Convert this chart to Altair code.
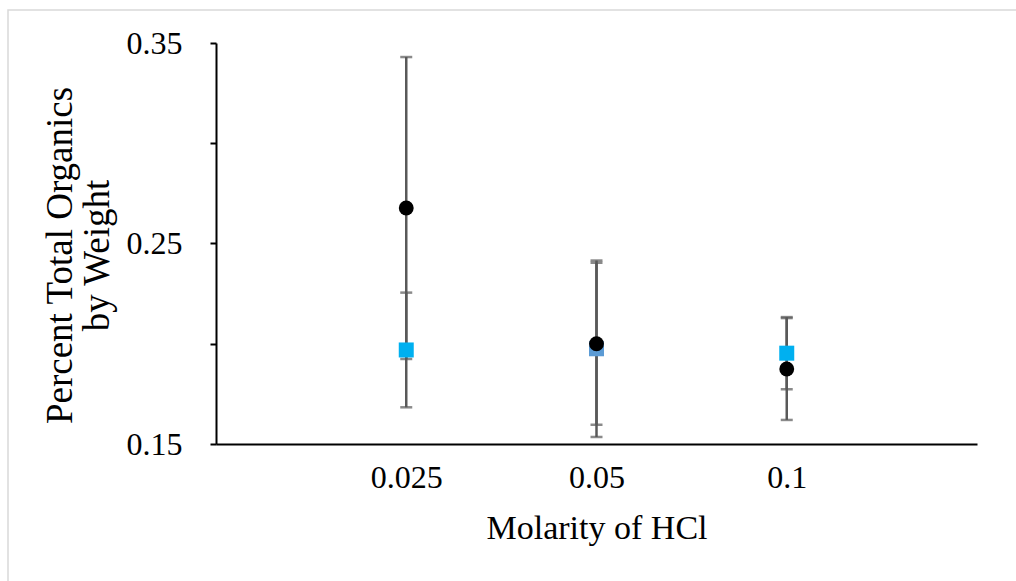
import altair as alt
import pandas as pd

molarity = ["0.025", "0.05", "0.1"]
circle_mean = [0.2677, 0.2000, 0.1874]
circle_err = [0.0753, 0.0404, 0.0254]
square_mean = [0.1969, 0.1975, 0.1953]
square_err = [0.0286, 0.0440, 0.0180]
square_colors = ["#00B0F0", "#5B9BD5", "#00B0F0"]

y_ticks = [0.15, 0.20, 0.25, 0.30, 0.35]

rows = []
for i, m in enumerate(molarity):
    rows.append({"molarity": m, "series": "circle", "mean": circle_mean[i],
                 "lo": circle_mean[i] - circle_err[i], "hi": circle_mean[i] + circle_err[i],
                 "color": "#000000"})
    rows.append({"molarity": m, "series": "square", "mean": square_mean[i],
                 "lo": square_mean[i] - square_err[i], "hi": square_mean[i] + square_err[i],
                 "color": square_colors[i]})
df = pd.DataFrame(rows)

FONT = "Liberation Serif"

x_enc = alt.X(
    "molarity:O",
    sort=molarity,
    scale=alt.Scale(type="point", padding=1),
    axis=alt.Axis(
        title="Molarity of HCl",
        labelAngle=0,
        ticks=False,
        tickSize=0,
        labelPadding=18,
        titlePadding=18,
        titleFontSize=34,
        domainColor="#000000",
        domainWidth=2,
    ),
)
y_scale = alt.Scale(domain=[0.15, 0.35], nice=False, zero=False)
y_axis = alt.Axis(
    title=["Percent Total Organics", "by Weight"],
    values=y_ticks,
    format=".2f",
    labelExpr="round(datum.value*100) % 10 == 5 ? datum.label : ''",
    tickSize=6,
    tickWidth=2,
    tickColor="#000000",
    labelPadding=28,
    titlePadding=10,
    titleFontSize=37,
    titleLineHeight=37,
    titleY=212,
    domainColor="#000000",
    domainWidth=2,
    grid=False,
)

base = alt.Chart(df)

frame = base.mark_rect(fill=None, stroke="#D9D9D9", strokeWidth=1.5).encode(
    x=alt.value(-208), x2=alt.value(900), y=alt.value(-33), y2=alt.value(600)
).transform_filter("datum.series == 'circle' && datum.molarity == '0.025'")

rules = base.mark_rule(color="#595959", strokeWidth=2.5).encode(
    x=x_enc,
    y=alt.Y("lo:Q", scale=y_scale, axis=y_axis),
    y2="hi:Q",
)
caps_lo = base.mark_tick(color="#595959", size=12, thickness=2.5).encode(
    x=alt.X("molarity:O", sort=molarity), y=alt.Y("lo:Q")
)
caps_hi = base.mark_tick(color="#595959", size=12, thickness=2.5).encode(
    x=alt.X("molarity:O", sort=molarity), y=alt.Y("hi:Q")
)
squares = base.mark_point(shape="square", filled=True, size=225, opacity=1).encode(
    x=alt.X("molarity:O", sort=molarity),
    y=alt.Y("mean:Q"),
    color=alt.Color("color:N", scale=None),
).transform_filter("datum.series == 'square'")
circles = base.mark_point(shape="circle", filled=True, size=220, opacity=1, color="#000000").encode(
    x=alt.X("molarity:O", sort=molarity),
    y=alt.Y("mean:Q"),
).transform_filter("datum.series == 'circle'")

chart = (
    alt.layer(frame, rules, caps_lo, caps_hi, squares, circles)
    .properties(
        width=761,
        height=401,
        autosize=alt.AutoSizeParams(type="none"),
        padding={"left": 216, "top": 43, "right": 39, "bottom": 137},
        background="#FFFFFF",
    )
    .configure_view(stroke=None)
    .configure_axis(
        labelFont=FONT,
        titleFont=FONT,
        labelFontSize=32,
        titleFontWeight="normal",
        labelColor="#000000",
        titleColor="#000000",
    )
)

chart.save("out.html", embed_options={"renderer": "svg", "actions": False})
